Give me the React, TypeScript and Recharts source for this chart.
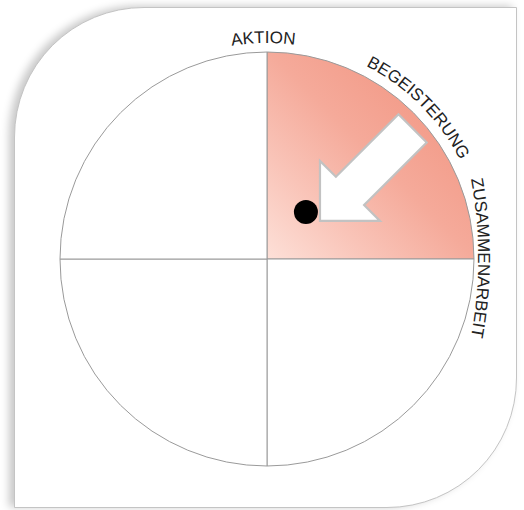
import React from 'react';
import { PieChart, Pie, Cell, ScatterChart, Scatter, XAxis, YAxis, Customized } from 'recharts';

const quadrants = ['Begeisterung', 'Q2', 'Q3', 'Q4'];
const quadrantValues = [1, 1, 1, 1];
const labels = ['AKTION', 'BEGEISTERUNG', 'ZUSAMMENARBEIT'];
const dotPoints = [{ x: 0.188, y: 0.227 }];
const arrowTips = [{ x: 0.256, y: 0.184 }];

const W = 524;
const H = 510;
const CX = 267;
const CY = 259;
const R = 207;

const pieData = quadrants.map((name, i) => ({ name, value: quadrantValues[i] }));

const FONT = '"Liberation Sans", Arial, Helvetica, sans-serif';

function arcPath(r: number, a0: number, a1: number) {
  // angles in degrees, clockwise from top
  const p = (a: number) => {
    const rad = (a * Math.PI) / 180;
    return [CX + r * Math.sin(rad), CY - r * Math.cos(rad)];
  };
  const [x0, y0] = p(a0);
  const [x1, y1] = p(a1);
  return `M ${x0} ${y0} A ${r} ${r} 0 0 1 ${x1} ${y1}`;
}

const Labels = () => (
  <g>
    <defs>
      <linearGradient id="quadGrad" gradientUnits="userSpaceOnUse" x1={CX} y1={CY} x2={CX + 150} y2={CY - 150}>
        <stop offset="0" stopColor="#fde0d8" />
        <stop offset="0.35" stopColor="#f9c4b8" />
        <stop offset="0.7" stopColor="#f5aa9a" />
        <stop offset="1" stopColor="#f39d8b" />
      </linearGradient>
      <path id="lblPath0" d={arcPath(216, -31, 29)} />
      <path id="lblPath1" d={arcPath(217, 15, 75)} />
      <path id="lblPath2" d={`M 467 160 A 434 434 0 0 1 467 356`} />
    </defs>
    {labels.map((t, i) => (
      <text key={t} fontFamily={FONT} fontSize={17} fill="#222">
        <textPath href={`#lblPath${i}`} startOffset="50%" textAnchor="middle">
          {t}
        </textPath>
      </text>
    ))}
  </g>
);

const ArrowShape = (props: any) => {
  const { cx, cy } = props;
  const pts = [
    [0, -60],
    [0, 0],
    [60, 0],
    [44.1, -15.9],
    [106.7, -78.5],
    [78.5, -106.7],
    [15.9, -44.1],
  ]
    .map(([dx, dy]) => `${cx + dx},${cy + dy}`)
    .join(' ');
  return <polygon points={pts} fill="#ffffff" stroke="#c2c2c2" strokeWidth={2.2} strokeLinejoin="miter" />;
};

const DotShape = (props: any) => <circle cx={props.cx} cy={props.cy} r={12} fill="#000" />;

export default function App() {
  return (
    <div style={{ position: 'absolute', left: 0, top: 0, width: W, height: H, background: '#fff', overflow: 'hidden' }}>
      <div
        style={{
          position: 'absolute',
          left: 14,
          top: 7,
          width: 503,
          height: 501,
          boxSizing: 'border-box',
          border: '1px solid #c4c4c4',
          borderRadius: '130px 0 130px 0',
          background: '#fff',
          boxShadow: '-5px -1px 9px rgba(0,0,0,0.22)',
        }}
      />
      <div style={{ position: 'absolute', left: 0, top: 0 }}>
        <PieChart width={W} height={H} margin={{ top: 0, right: 0, bottom: 0, left: 0 }}>
          <Customized component={Labels} />
          <Pie
            data={pieData}
            dataKey="value"
            nameKey="name"
            cx={CX}
            cy={CY}
            innerRadius={0}
            outerRadius={R}
            startAngle={90}
            endAngle={-270}
            stroke="#9a9a9a"
            strokeWidth={1}
            isAnimationActive={false}
          >
            {pieData.map((d, i) => (
              <Cell key={d.name} fill={i === 0 ? 'url(#quadGrad)' : '#ffffff'} />
            ))}
          </Pie>
        </PieChart>
      </div>
      <div style={{ position: 'absolute', left: 0, top: 0 }}>
        <ScatterChart width={W} height={H} margin={{ top: 52, right: 50, bottom: 44, left: 60 }}>
          <XAxis type="number" dataKey="x" domain={[-1, 1]} hide />
          <YAxis type="number" dataKey="y" domain={[-1, 1]} hide />
          <Scatter data={arrowTips} shape={<ArrowShape />} isAnimationActive={false} />
          <Scatter data={dotPoints} shape={<DotShape />} isAnimationActive={false} />
        </ScatterChart>
      </div>
    </div>
  );
}
